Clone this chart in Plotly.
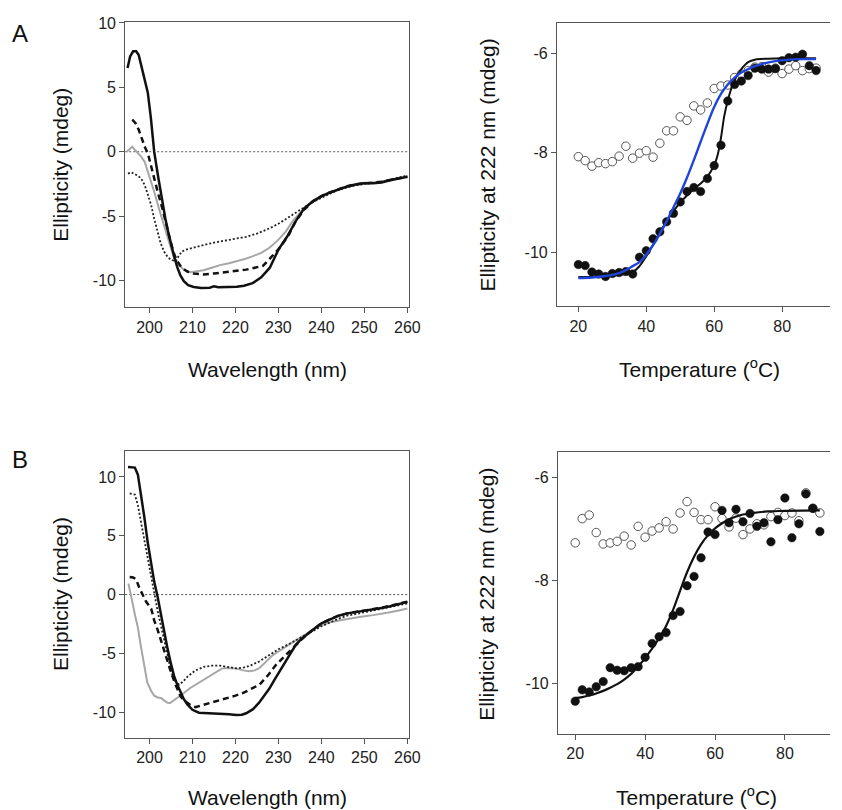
import plotly.graph_objects as go

W, H = 842, 810
FONT = "Liberation Sans, Arial, sans-serif"

# ---------------- Panel A, CD spectra ----------------
a_black_wl = [194.9, 195.5, 196.2, 196.9, 197.5, 198.2, 198.9, 199.6, 200.3, 201.1, 202.0, 203.0, 203.7, 204.4, 205.0, 205.8, 206.5, 207.2, 208.0, 209.0, 210.3, 212.0, 214.0, 215.0, 216.0, 218.0, 220.3, 222.0, 224.0, 226.0, 228.0, 230.0, 232.0, 234.0, 236.0, 238.0, 240.0, 242.0, 244.0, 246.0, 248.0, 250.0, 252.0, 254.0, 256.0, 258.0, 260.0]
a_black = [6.5, 7.4, 7.8, 7.8, 7.5, 6.6, 5.6, 4.6, 2.7, 0.0, -1.9, -3.9, -5.2, -6.3, -7.2, -8.2, -9.0, -9.6, -10.05, -10.35, -10.5, -10.58, -10.55, -10.45, -10.52, -10.52, -10.48, -10.4, -10.2, -9.75, -9.0, -7.6, -6.6, -5.4, -4.4, -3.85, -3.45, -3.15, -2.9, -2.7, -2.55, -2.45, -2.45, -2.38, -2.22, -2.08, -1.95]

a_dash_wl = [196.0, 196.8, 197.5, 198.3, 199.0, 199.6, 200.4, 201.1, 201.9, 203.0, 204.0, 205.0, 205.8, 206.5, 207.5, 208.8, 210.3, 212.6, 215.0, 218.0, 220.3, 222.5, 224.5, 226.4, 228.0, 229.2, 230.2, 231.5, 232.5, 234.0, 236.0, 238.0, 240.0, 242.0, 244.0, 246.0, 248.0, 250.0, 252.0, 254.0, 256.0, 258.0, 260.0]
a_dash = [2.5, 2.2, 1.7, 0.9, 0.3, -0.1, -1.2, -2.2, -3.1, -4.4, -5.8, -7.1, -8.0, -8.5, -9.0, -9.3, -9.45, -9.52, -9.45, -9.35, -9.28, -9.15, -9.0, -8.85, -8.3, -7.9, -7.5, -6.9, -6.4, -5.4, -4.5, -3.85, -3.45, -3.15, -2.9, -2.68, -2.52, -2.45, -2.42, -2.33, -2.2, -2.06, -1.93]

a_gray_wl = [194.7, 195.3, 196.0, 196.6, 197.3, 198.0, 198.9, 200.0, 201.1, 202.2, 203.4, 204.5, 205.7, 206.8, 208.0, 209.5, 211.0, 212.6, 214.5, 216.4, 218.5, 220.3, 222.2, 224.1, 226.0, 227.9, 229.8, 231.7, 233.5, 235.5, 237.5, 240.0, 242.0, 244.0, 246.0, 248.0, 250.0, 252.0, 254.0, 256.0, 258.0, 260.0]
a_gray = [0.0, 0.2, 0.4, 0.15, -0.1, -0.35, -0.8, -1.9, -3.1, -4.4, -5.7, -7.0, -8.25, -8.8, -9.15, -9.36, -9.3, -9.2, -9.0, -8.8, -8.65, -8.5, -8.32, -8.1, -7.85, -7.45, -6.9, -6.2, -5.3, -4.6, -4.0, -3.5, -3.2, -2.95, -2.7, -2.5, -2.4, -2.4, -2.3, -2.15, -2.0, -1.9]

a_dot_wl = [195.0, 195.8, 196.6, 197.3, 198.1, 198.9, 199.6, 200.4, 201.1, 201.9, 202.6, 203.4, 204.2, 205.0, 206.1, 206.8, 207.5, 208.5, 210.0, 212.6, 215.0, 217.5, 220.3, 222.5, 225.0, 227.9, 230.2, 231.8, 233.3, 235.0, 236.3, 238.0, 240.0, 242.0, 244.0, 246.0, 248.0, 250.0, 252.0, 254.0, 256.0, 258.0, 260.0]
a_dot = [-1.7, -1.6, -1.75, -1.85, -2.1, -2.6, -3.3, -4.15, -5.2, -6.2, -7.1, -7.75, -8.15, -8.4, -8.5, -8.1, -7.75, -7.6, -7.45, -7.25, -7.05, -6.9, -6.75, -6.6, -6.35, -5.95, -5.55, -5.2, -4.85, -4.5, -4.25, -3.9, -3.55, -3.25, -2.95, -2.75, -2.6, -2.5, -2.45, -2.35, -2.15, -2.0, -1.85]

# ---------------- Panel B, CD spectra ----------------
b_black_wl = [195.0, 195.8, 196.6, 197.3, 198.0, 198.8, 199.6, 200.4, 201.1, 201.9, 202.7, 203.4, 204.2, 205.0, 205.7, 206.5, 207.3, 208.0, 208.8, 210.0, 211.5, 213.0, 215.0, 217.2, 218.5, 220.2, 221.5, 222.5, 224.1, 225.5, 226.5, 227.9, 229.0, 230.0, 231.0, 232.5, 234.0, 235.0, 236.3, 238.0, 240.0, 242.0, 244.0, 246.0, 248.0, 250.0, 252.0, 254.0, 256.0, 258.0, 260.0]
b_black = [10.85, 10.85, 10.8, 10.2, 8.6, 6.6, 4.4, 2.6, 1.1, -0.2, -1.8, -3.1, -4.6, -5.9, -6.9, -7.7, -8.4, -8.9, -9.35, -9.8, -10.05, -10.08, -10.08, -10.1, -10.18, -10.25, -10.22, -10.1, -9.75, -9.2, -8.7, -8.0, -7.3, -6.7, -6.1, -5.2, -4.3, -3.9, -3.5, -3.0, -2.45, -2.1, -1.8, -1.6, -1.5, -1.4, -1.3, -1.15, -1.0, -0.8, -0.62]

b_dash_wl = [195.4, 196.2, 196.9, 197.6, 198.4, 199.2, 200.4, 201.1, 201.9, 203.0, 204.0, 205.0, 206.0, 207.3, 208.4, 209.5, 210.7, 212.5, 214.1, 216.0, 217.9, 220.0, 221.8, 223.7, 225.6, 227.5, 229.4, 231.0, 232.5, 234.0, 236.3, 238.0, 240.0, 242.0, 244.0, 246.0, 248.0, 250.0, 252.0, 254.0, 256.0, 258.0, 260.0]
b_dash = [1.5, 1.45, 1.3, 0.6, 0.0, -0.6, -1.2, -2.2, -3.0, -4.3, -5.4, -6.6, -7.6, -8.7, -9.1, -9.4, -9.58, -9.4, -9.2, -9.0, -8.8, -8.6, -8.37, -8.0, -7.66, -6.9, -6.0, -5.4, -4.84, -4.3, -3.5, -3.0, -2.45, -2.1, -1.8, -1.6, -1.48, -1.38, -1.28, -1.12, -0.95, -0.78, -0.6]

b_gray_wl = [195.1, 195.6, 196.0, 196.6, 197.3, 198.0, 198.8, 199.5, 200.4, 201.1, 201.9, 202.7, 203.4, 204.2, 204.8, 205.7, 206.5, 208.0, 209.5, 211.1, 212.6, 214.1, 215.7, 216.8, 218.0, 220.3, 221.8, 223.3, 224.5, 225.6, 227.0, 228.7, 230.2, 231.7, 233.5, 235.5, 237.5, 240.0, 242.0, 244.7, 247.0, 249.2, 252.0, 254.0, 256.0, 258.0, 260.0]
b_gray = [0.93, 0.2, -0.6, -1.7, -2.8, -4.4, -6.2, -7.5, -8.2, -8.6, -8.75, -8.8, -9.0, -9.2, -9.22, -9.0, -8.8, -8.37, -7.95, -7.6, -7.24, -6.9, -6.53, -6.3, -6.25, -6.3, -6.45, -6.52, -6.45, -6.25, -5.75, -5.15, -4.8, -4.45, -4.0, -3.6, -3.1, -2.6, -2.35, -2.17, -2.0, -1.89, -1.75, -1.65, -1.5, -1.35, -1.18]

b_dot_wl = [195.4, 196.6, 197.3, 198.1, 198.8, 199.6, 200.4, 201.1, 202.0, 202.7, 203.4, 204.2, 205.0, 205.8, 206.9, 207.8, 208.8, 210.5, 212.6, 214.5, 216.4, 218.5, 220.3, 222.0, 223.4, 225.5, 227.9, 230.0, 231.7, 234.0, 236.3, 238.0, 240.0, 242.0, 244.0, 246.0, 248.0, 250.0, 252.0, 254.0, 256.0, 258.0, 260.0]
b_dot = [8.6, 8.5, 7.6, 6.0, 4.6, 3.0, 1.6, 0.2, -1.6, -2.7, -3.7, -5.1, -6.5, -7.3, -7.66, -7.4, -7.0, -6.5, -6.15, -6.05, -6.05, -6.2, -6.28, -6.2, -6.05, -5.7, -5.15, -4.65, -4.35, -3.9, -3.5, -3.1, -2.7, -2.35, -2.05, -1.8, -1.65, -1.5, -1.35, -1.2, -1.05, -0.9, -0.76]

# ---------------- Thermal melts ----------------
temps = [20, 22, 24, 26, 28, 30, 32, 34, 36, 38, 40, 42, 44, 46, 48, 50, 52, 54, 56, 58,
         60, 62, 64, 66, 68, 70, 72, 74, 76, 78, 80, 82, 84, 86, 88, 90]

a_filled = [-10.25, -10.27, -10.4, -10.44, -10.49, -10.43, -10.41, -10.39, -10.44, -10.1,
            -9.97, -9.73, -9.59, -9.39, -9.22, -8.99, -8.78, -8.7, -8.78, -8.52,
            -8.26, -7.85, -6.96, -6.63, -6.56, -6.45, -6.3, -6.32, -6.32, -6.31,
            -6.15, -6.09, -6.08, -6.02, -6.25, -6.35]
a_open = [-8.08, -8.16, -8.27, -8.2, -8.22, -8.18, -8.07, -7.87, -8.11, -8.01,
          -7.96, -8.09, -7.81, -7.56, -7.56, -7.28, -7.35, -7.06, -7.14, -7.0,
          -6.71, -6.66, -6.64, -6.49, -6.42, -6.35, -6.28, -6.27, -6.38, -6.3,
          -6.41, -6.32, -6.25, -6.35, -6.31, -6.3]

a_fit_t = [20, 24, 28, 32, 36, 38, 40, 42, 44, 46, 48, 50, 52, 54, 56, 58, 60, 61, 62, 63, 64, 65, 66, 67, 68, 69, 70, 72, 76, 80, 85, 90]
a_fit_black = [-10.5, -10.5, -10.49, -10.46, -10.4, -10.28, -10.08, -9.85, -9.6, -9.38, -9.18, -9.0, -8.86, -8.73, -8.62, -8.48, -8.25, -8.05, -7.7, -7.25, -6.95, -6.72, -6.55, -6.42, -6.32, -6.24, -6.18, -6.13, -6.11, -6.1, -6.1, -6.1]
a_fit_blue_t = [20, 24, 28, 32, 34, 36, 38, 40, 42, 44, 46, 48, 50, 52, 54, 56, 58, 60, 62, 64, 66, 68, 70, 72, 75, 78, 82, 86, 90]
a_fit_blue = [-10.52, -10.51, -10.48, -10.42, -10.36, -10.28, -10.2, -10.05, -9.86, -9.63, -9.38, -9.1, -8.82, -8.5, -8.15, -7.78, -7.42, -7.08, -6.82, -6.63, -6.49, -6.39, -6.32, -6.26, -6.2, -6.16, -6.13, -6.12, -6.12]

b_filled = [-10.34, -10.12, -10.16, -10.06, -9.96, -9.69, -9.74, -9.75, -9.69, -9.67,
            -9.49, -9.22, -9.09, -9.01, -8.68, -8.6, -8.1, -7.92, -7.56, -7.06,
            -7.11, -6.64, -6.88, -6.62, -6.86, -6.7, -6.95, -6.88, -7.25, -6.82,
            -6.4, -7.17, -6.9, -6.32, -6.6, -7.05]
b_open = [-7.27, -6.8, -6.73, -7.07, -7.29, -7.27, -7.24, -7.14, -7.31, -6.95,
          -7.16, -7.04, -6.98, -6.86, -7.0, -6.69, -6.47, -6.68, -6.82, -6.82,
          -6.57, -6.8, -6.96, -6.79, -7.11, -7.0, -6.9, -6.92, -6.76, -6.68,
          -6.74, -6.69, -6.84, -6.3, -6.6, -6.69]

b_fit_t = [20, 22, 24, 26, 28, 30, 32, 34, 36, 38, 40, 42, 44, 46, 48, 50, 52, 54, 56, 58, 60, 62, 64, 66, 68, 70, 75, 80, 90]
b_fit = [-10.28, -10.26, -10.23, -10.19, -10.14, -10.08, -10.01, -9.92, -9.81, -9.67, -9.5, -9.32, -9.12, -8.88, -8.57, -8.2, -7.84, -7.54, -7.3, -7.12, -6.99, -6.89, -6.81, -6.76, -6.72, -6.7, -6.66, -6.65, -6.64]

# ---------------- Tick labels (plain hyphen minus, as in the figure) ----------------
wl_ticks = [200, 210, 220, 230, 240, 250, 260]
wl_labels = ["200", "210", "220", "230", "240", "250", "260"]
cd_ticks = [-10, -5, 0, 5, 10]
cd_labels = ["-10", "-5", "0", "5", "10"]
t_ticks = [20, 40, 60, 80]
t_labels = ["20", "40", "60", "80"]
melt_ticks = [-10, -8, -6]
melt_labels = ["-10", "-8", "-6"]

BLUE = "#1f45d8"
GRAY = "#a6a6a6"
AX = "#555555"


def px(x):
    return x / W


def py(y):
    return 1 - y / H


fig = go.Figure()


def cd_traces(xa, ya, wl_b, v_b, wl_d, v_d, wl_g, v_g, wl_o, v_o):
    fig.add_trace(go.Scatter(x=wl_g, y=v_g, mode="lines", xaxis=xa, yaxis=ya,
                             line=dict(color=GRAY, width=2), showlegend=False))
    fig.add_trace(go.Scatter(x=wl_o, y=v_o, mode="lines", xaxis=xa, yaxis=ya,
                             line=dict(color="#222", width=1.8, dash="2px,2px"), showlegend=False))
    fig.add_trace(go.Scatter(x=wl_d, y=v_d, mode="lines", xaxis=xa, yaxis=ya,
                             line=dict(color="#111", width=2.5, dash="6px,4px"), showlegend=False))
    fig.add_trace(go.Scatter(x=wl_b, y=v_b, mode="lines", xaxis=xa, yaxis=ya,
                             line=dict(color="#111", width=2.5), showlegend=False))


cd_traces("x", "y", a_black_wl, a_black, a_dash_wl, a_dash, a_gray_wl, a_gray, a_dot_wl, a_dot)
cd_traces("x3", "y3", b_black_wl, b_black, b_dash_wl, b_dash, b_gray_wl, b_gray, b_dot_wl, b_dot)

open_marker = dict(symbol="circle", size=8.5, color="white", line=dict(color="#555", width=1))
fill_marker = dict(symbol="circle", size=8.5, color="#111", line=dict(color="#111", width=0.5))

# Panel A melt
fig.add_trace(go.Scatter(x=temps, y=a_open, mode="markers", xaxis="x2", yaxis="y2",
                         marker=open_marker, showlegend=False))
fig.add_trace(go.Scatter(x=temps, y=a_filled, mode="markers", xaxis="x2", yaxis="y2",
                         marker=fill_marker, showlegend=False))
fig.add_trace(go.Scatter(x=a_fit_t, y=a_fit_black, mode="lines", xaxis="x2", yaxis="y2",
                         line=dict(color="#111", width=2, shape="spline"), showlegend=False))
fig.add_trace(go.Scatter(x=a_fit_blue_t, y=a_fit_blue, mode="lines", xaxis="x2", yaxis="y2",
                         line=dict(color=BLUE, width=2.4, shape="spline"), showlegend=False))

# Panel B melt
fig.add_trace(go.Scatter(x=temps, y=b_open, mode="markers", xaxis="x4", yaxis="y4",
                         marker=open_marker, showlegend=False))
fig.add_trace(go.Scatter(x=temps, y=b_filled, mode="markers", xaxis="x4", yaxis="y4",
                         marker=fill_marker, showlegend=False))
fig.add_trace(go.Scatter(x=b_fit_t, y=b_fit, mode="lines", xaxis="x4", yaxis="y4",
                         line=dict(color="#111", width=2.2, shape="spline"), showlegend=False))

axis_common = dict(showline=True, linecolor=AX, linewidth=1, ticks="outside", ticklen=5,
                   tickcolor=AX, tickwidth=1, showgrid=False, zeroline=False,
                   tickmode="array",
                   tickfont=dict(family=FONT, size=16, color="#222"))

fig.update_layout(
    width=W, height=H, margin=dict(l=0, r=0, t=0, b=0),
    paper_bgcolor="white", plot_bgcolor="white", showlegend=False,
    xaxis=dict(domain=[px(127), px(415)], range=[194.35, 260.4], tickvals=wl_ticks,
               ticktext=wl_labels, mirror=True, anchor="y", **axis_common),
    yaxis=dict(domain=[py(303), py(15)], range=[-12.08, 10.08], tickvals=cd_ticks,
               ticktext=cd_labels, mirror=True, anchor="x", **axis_common),
    xaxis2=dict(domain=[px(565), 1.0], range=[13.7, 94.1], tickvals=t_ticks,
                ticktext=t_labels, mirror=True, anchor="y2", **axis_common),
    yaxis2=dict(domain=[py(302), py(16)], range=[-11.09, -5.39], tickvals=melt_ticks,
                ticktext=melt_labels, mirror=False, anchor="x2", **axis_common),
    xaxis3=dict(domain=[px(127), px(415)], range=[194.35, 260.4], tickvals=wl_ticks,
                ticktext=wl_labels, mirror=True, anchor="y3", **axis_common),
    yaxis3=dict(domain=[py(737), py(448)], range=[-12.17, 12.2], tickvals=cd_ticks,
                ticktext=cd_labels, mirror=True, anchor="x3", **axis_common),
    xaxis4=dict(domain=[px(566), 1.0], range=[15.05, 92.9], tickvals=t_ticks,
                ticktext=t_labels, mirror=True, anchor="y4", **axis_common),
    yaxis4=dict(domain=[py(733), py(449)], range=[-10.97, -5.51], tickvals=melt_ticks,
                ticktext=melt_labels, mirror=False, anchor="x4", **axis_common),
)

# zero reference lines in CD panels
for xr, yr in (("x", "y"), ("x3", "y3")):
    fig.add_shape(type="line", xref=f"{xr} domain", yref=yr, x0=0, x1=1, y0=0, y1=0,
                  line=dict(color="#555", width=1, dash="2px,2px"), layer="below")

ann = []


def text(x, y, s, size, angle=0):
    ann.append(dict(x=px(x), y=py(y), xref="paper", yref="paper", text=s, showarrow=False,
                    xanchor="center", yanchor="middle", textangle=angle,
                    font=dict(family=FONT, size=size, color="#111")))


text(20, 27, "A", 24)
text(20, 456, "B", 24)
text(62, 159, "Ellipticity (mdeg)", 21, -90)
text(62, 592, "Ellipticity (mdeg)", 21, -90)
text(495, 159, "Ellipticity at 222 nm (mdeg)", 21, -90)
text(494, 592, "Ellipticity at 222 nm (mdeg)", 21, -90)
text(271, 366, "Wavelength (nm)", 21)
text(271, 797, "Wavelength (nm)", 21)
text(710, 364, "Temperature (<sup>o</sup>C)", 21)
text(707, 796, "Temperature (<sup>o</sup>C)", 21)
fig.update_layout(annotations=ann)

fig.write_html(
    "out.html",
    config={"displayModeBar": False},
    post_script="document.documentElement.style.margin='0';document.body.style.margin='0';"
                "document.body.style.padding='0';document.body.style.overflow='hidden';",
)
